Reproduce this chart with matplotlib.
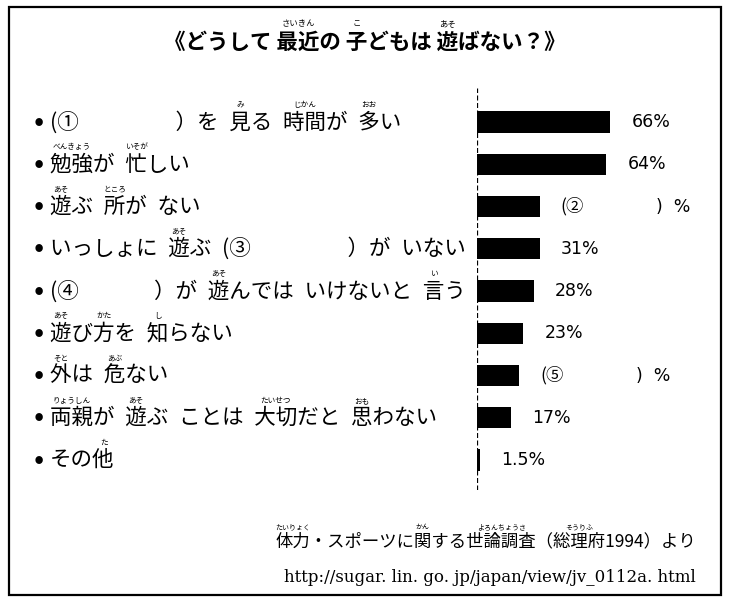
import matplotlib
matplotlib.use('Agg')
import matplotlib.pyplot as plt
from matplotlib import transforms
from matplotlib.font_manager import FontProperties
from matplotlib.patches import Rectangle

FAMILY = ['Noto Sans CJK JP', 'DejaVu Sans']
plt.rcParams['font.family'] = FAMILY

W, H = 732, 603

title = '《どうして 最近の 子どもは 遊ばない？》'
title_ruby = [('最近', 'さいきん'), ('子', 'こ'), ('遊', 'あそ')]

categories = [
    '(①　　　　 ）を 見る 時間が 多い',
    '勉強が 忙しい',
    '遊ぶ 所が ない',
    'いっしょに 遊ぶ (③　　　　 ）が いない',
    '(④　　　 ）が 遊んでは いけないと 言う',
    '遊び方を 知らない',
    '外は 危ない',
    '両親が 遊ぶ ことは 大切だと 思わない',
    'その他',
]
category_ruby = [
    [('見', 'み'), ('時間', 'じかん'), ('多', 'おお')],
    [('勉強', 'べんきょう'), ('忙', 'いそが')],
    [('遊', 'あそ'), ('所', 'ところ')],
    [('遊', 'あそ')],
    [('遊', 'あそ'), ('言', 'い')],
    [('遊', 'あそ'), ('方', 'かた'), ('知', 'し')],
    [('外', 'そと'), ('危', 'あぶ')],
    [('両親', 'りょうしん'), ('遊', 'あそ'), ('大切', 'たいせつ'), ('思', 'おも')],
    [('他', 'た')],
]
values = [66, 64, 31, 31, 28, 23, 21, 17, 1.5]
value_labels = ['66%', '64%', '②', '31%', '28%', '23%', '⑤', '17%', '1.5%']

source = '体力・スポーツに関する世論調査（総理府1994）より'
source_ruby = [('体力', 'たいりょく'), ('関', 'かん'), ('世論調査', 'よろんちょうさ'), ('総理府', 'そうりふ')]
url = 'http://sugar. lin. go. jp/japan/view/jv_0112a. html'

fig = plt.figure(figsize=(W / 100, H / 100), dpi=100)
bg = fig.add_axes([0, 0, 1, 1])
bg.set_xlim(0, W)
bg.set_ylim(H, 0)
bg.axis('off')
renderer = fig.canvas.get_renderer()


def text_width(s, prop):
    w, h, d = renderer.get_text_width_height_descent(s, prop, ismath=False)
    return w


def put_ruby_text(x, y, trans, s, rubies, size, weight='normal', ha='left',
                  rsize=5.5, rise=14, wide_space=False):
    if wide_space:
        s = s.replace(' ', '\u2002')
    prop = FontProperties(family=FAMILY, size=size, weight=weight)
    full = text_width(s, prop)
    if ha == 'right':
        x0 = x - full
    elif ha == 'center':
        x0 = x - full / 2
    else:
        x0 = x
    bg.text(x0, y, s, fontproperties=prop, ha='left', va='center',
            transform=trans)
    rtrans = transforms.offset_copy(trans, fig=fig, y=rise, units='dots')
    pos = 0
    for base, reading in rubies:
        i = s.find(base, pos)
        pos = i + len(base)
        right = text_width(s[:pos], prop)
        cx = x0 + right - text_width(base, prop) / 2
        bg.text(cx, y, reading, fontsize=rsize, ha='center', va='center',
                transform=rtrans)


# frame
bg.add_patch(Rectangle((9, 7), 712, 588, fill=False, lw=1.6, ec='black'))

put_ruby_text(365, 42, bg.transData, title, title_ruby, 15.5, weight='bold',
              ha='center', rsize=6, rise=18)

# bar area
ax = fig.add_axes([477 / W, 1 - 490 / H, 202 / W, 402 / H])
ax.barh(range(len(values)), values, height=0.5, color='black')
ax.set_xlim(0, 100)
ax.set_ylim(8.71, -0.805)
ax.axis('off')
ax.axvline(0, color='black', lw=0.9, ls=(0, (4, 2)))

row_trans = transforms.blended_transform_factory(bg.transData, ax.transData)
for i, (cat, rb) in enumerate(zip(categories, category_ruby)):
    bg.text(39, i, '●', fontsize=6, ha='center', va='center',
            transform=row_trans)
    put_ruby_text(50, i, row_trans, cat, rb, 15.5, rsize=5.5, rise=17,
                  wide_space=True)

blank_close = transforms.offset_copy(ax.transData, fig=fig, x=95, units='dots')
for i, (v, lab) in enumerate(zip(values, value_labels)):
    if lab.endswith('%'):
        ax.text(v + 10.5, i, lab, fontsize=12.5, fontfamily='DejaVu Sans',
                va='center', ha='left')
    else:
        ax.text(v + 10.5, i, '(' + lab, fontsize=12.5, va='center', ha='left')
        ax.text(v + 10.5, i, ')  %', fontsize=12.5, fontfamily='DejaVu Sans',
                va='center', ha='left', transform=blank_close)

put_ruby_text(696, 541, bg.transData, source, source_ruby, 12.5, ha='right',
              rsize=5, rise=14)
bg.text(696, 577, url, fontsize=12, fontfamily='DejaVu Serif', ha='right',
        va='center')

fig.savefig('out.png', dpi=100)
